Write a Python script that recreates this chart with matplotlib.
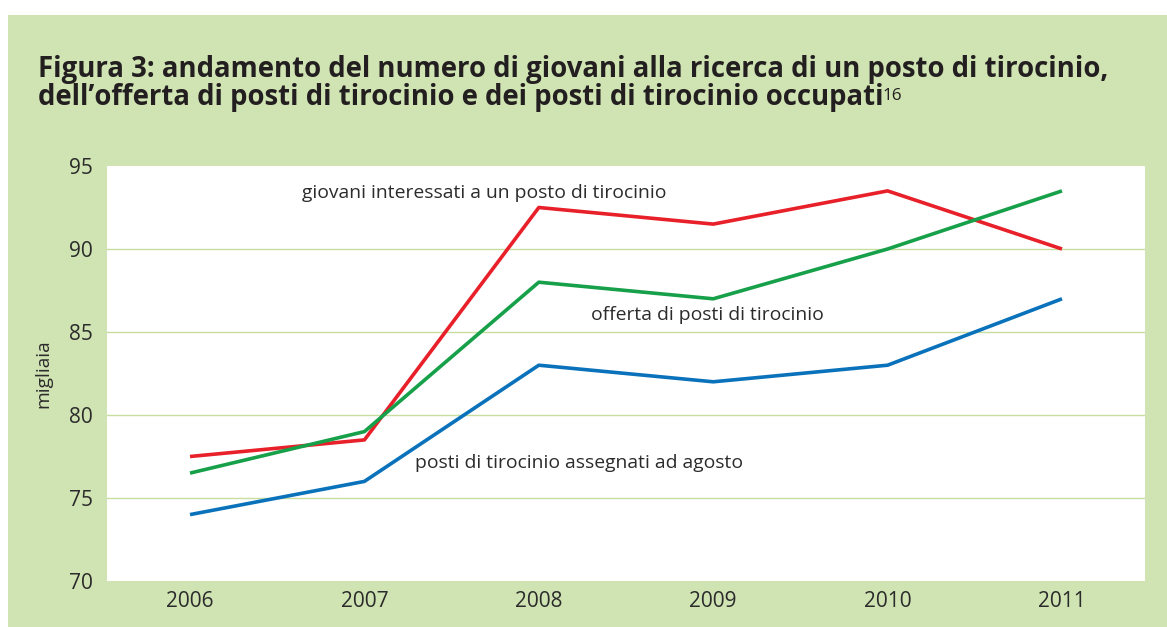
"""Figura 3: giovani, offerta e posti di tirocinio occupati"""
import matplotlib.pyplot as plt
from matplotlib.patches import Rectangle

years = ["2006", "2007", "2008", "2009", "2010", "2011"]
giovani = [77.5, 78.5, 92.5, 91.5, 93.5, 90.0]
offerta = [76.5, 79.0, 88.0, 87.0, 90.0, 93.5]
assegnati = [74.0, 76.0, 83.0, 82.0, 83.0, 87.0]
yticks = [70, 75, 80, 85, 90, 95]

BG = "#d0e3b2"
GRID = "#c8de9f"
TXT = "#2b2b2b"

plt.rcParams['font.family'] = ['Open Sans', 'DejaVu Sans']

fig = plt.figure(figsize=(11.67, 6.27), dpi=100)
fig.patch.set_facecolor("white")
# green panel with thin white margin top/left
fig.add_artist(Rectangle((8 / 1167, 0), 1 - 8 / 1167, 1 - 15 / 627,
                         transform=fig.transFigure, facecolor=BG,
                         edgecolor="none", zorder=-10))

ax = fig.add_axes([107 / 1167, 1 - 581 / 627, (1145 - 107) / 1167, (581 - 166) / 627])
ax.set_facecolor("white")

x = range(len(years))
ax.plot(x, giovani, color="#e8202a", lw=2.6, solid_capstyle="butt", zorder=3)
ax.plot(x, offerta, color="#17a04a", lw=2.6, solid_capstyle="butt", zorder=3)
ax.plot(x, assegnati, color="#0a72bb", lw=2.6, solid_capstyle="butt", zorder=3)

ax.set_xlim(-0.476, 5.476)
ax.set_ylim(70, 95)
ax.set_xticks(list(x))
ax.set_xticklabels(years)
ax.set_yticks(yticks)
for v in yticks[1:-1]:
    ax.axhline(v, color=GRID, lw=1.0, zorder=1)
for s in ax.spines.values():
    s.set_visible(False)
ax.tick_params(length=0, labelsize=15, colors=TXT)
ax.tick_params(axis="y", pad=10)
ax.tick_params(axis="x", pad=7)
ax.set_ylabel("migliaia", fontsize=13.8, color=TXT, labelpad=12)

# series labels (x as category index)
ax.text(0.64, 93.4, "giovani interessati a un posto di tirocinio",
        fontsize=13.9, color=TXT, va="center", ha="left")
ax.text(2.3, 86.0, "offerta di posti di tirocinio",
        fontsize=13.9, color=TXT, va="center", ha="left")
ax.text(1.29, 77.1, "posti di tirocinio assegnati ad agosto",
        fontsize=13.9, color=TXT, va="center", ha="left")

fig.text(38 / 1167, 1 - 77 / 627,
         "Figura 3: andamento del numero di giovani alla ricerca di un posto di tirocinio,",
         fontsize=19.8, fontweight="bold", color="#231f20", va="baseline", ha="left")
line2 = fig.text(38 / 1167, 1 - 105 / 627,
                 "dell\u2019offerta di posti di tirocinio e dei posti di tirocinio occupati",
                 fontsize=19.8, fontweight="bold", color="#231f20", va="baseline", ha="left")
fig.canvas.draw()
end_x = line2.get_window_extent().x1
fig.text((end_x - 1) / 1167, 1 - 100 / 627, "16", fontsize=12.3, color="#231f20",
         va="baseline", ha="left")

fig.savefig("out.png", dpi=100, facecolor=fig.get_facecolor())
